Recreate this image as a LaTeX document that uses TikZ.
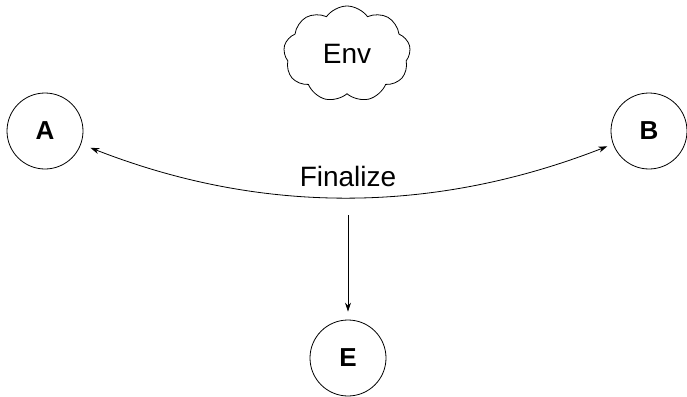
\documentclass[tikz,border=0pt]{standalone}
\usepackage{fontspec}
\setmainfont{Liberation Sans}
\usetikzlibrary{shapes.symbols,arrows.meta}
\begin{document}
\begin{tikzpicture}[x=1pt,y=-1pt,
  state/.style={circle,draw,line width=0.8pt,minimum size=76pt,inner sep=0pt,font=\fontsize{26}{26}\selectfont\bfseries},
  conn/.style={line width=0.8pt,{Stealth[length=9pt,width=6pt]}-{Stealth[length=9pt,width=6pt]}},
  arr/.style={line width=0.8pt,-{Stealth[length=9pt,width=6pt]}}]
\useasboundingbox (0,0) rectangle (687,396);
\node[state] (A) at (45,131) {A};
\node[state] (B) at (649,131) {B};
\node[state] (E) at (348,358) {E};
\node[cloud,draw,line width=0.8pt,cloud puffs=9,cloud puff arc=110,aspect=1.32,minimum width=127pt,minimum height=96pt,inner sep=0pt,font=\fontsize{28}{28}\selectfont] (env) at (347,54) {Env};
\draw[conn,shorten <=10pt,shorten >=6pt] (A.-20) .. controls (262,215) and (434,214) .. (B.200);
\node[font=\fontsize{28}{28}\selectfont] (fin) at (348,176) {Finalize};
\coordinate (m) at (348,199);
\draw[arr,shorten <=16pt,shorten >=8pt] (m) -- (E);
\end{tikzpicture}
\end{document}
